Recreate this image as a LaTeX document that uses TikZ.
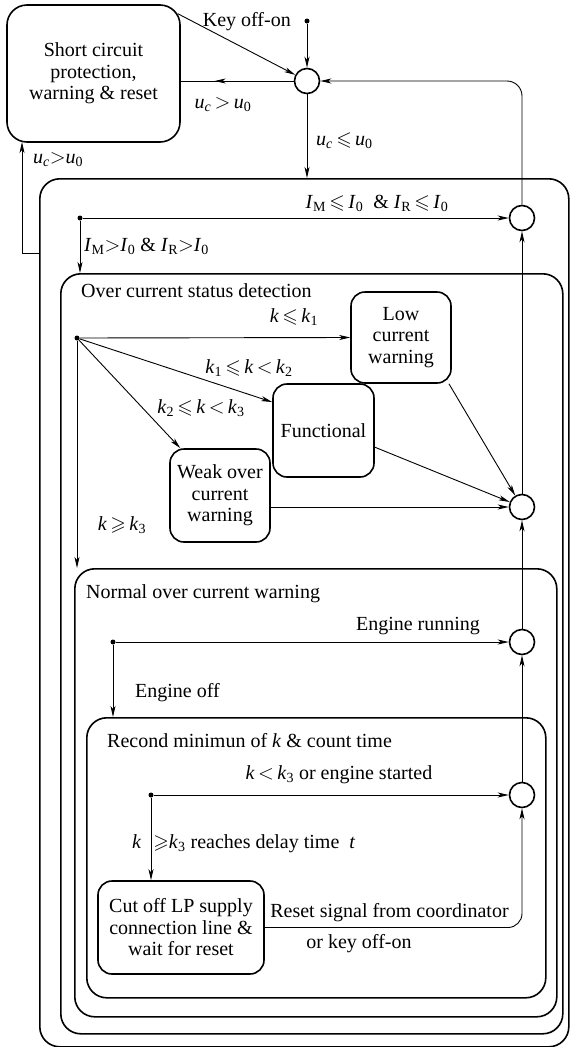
\documentclass[tikz,border=0pt]{standalone}
\usepackage{amssymb}
\usepackage{fontspec}
\setmainfont{Liberation Serif}
\usetikzlibrary{arrows.meta,decorations.markings,calc}

% italic variable with an upright or italic subscript
\newcommand\vr[1]{\textit{#1}}
\newcommand\vs[2]{\textit{#1}\textsubscript{#2}}
\newcommand\rel[1]{\,$#1$\,}

\begin{document}
\begin{tikzpicture}[x=1pt,y=-1pt,
  font=\fontsize{20}{21.5}\selectfont,
  tip/.tip={Stealth[length=11pt,width=5pt,inset=3pt]},
  conn/.style={line width=0.9pt},
  arr/.style={conn,-tip},
  frame/.style={draw,line width=1.6pt,rounded corners=20pt,inner sep=0pt,anchor=north west},
  state/.style={draw,line width=1.6pt,rounded corners=14pt,align=center,inner sep=0pt},
  junc/.style={circle,draw,line width=1.6pt,minimum size=25pt,inner sep=0pt},
  dot/.style={circle,fill,inner sep=0pt,minimum size=5pt},
  lbl/.style={inner sep=0pt,text height=14pt,text depth=4pt}]

\useasboundingbox (0,0) rectangle (570,1047);

% nested state frames
\node[frame,minimum width=529pt,minimum height=868pt] (B1) at (39,178) {};
\node[frame,minimum width=502pt,minimum height=760pt] (B2) at (60,273) {};
\node[frame,minimum width=482pt,minimum height=448pt] (B3) at (74,568) {};
\node[frame,minimum width=459pt,minimum height=280pt] (B4) at (86,717) {};

% states
\node[state,rounded corners=20pt,minimum width=173pt,minimum height=137pt] (sc) at (93.5,73.5)
  {Short circuit\\protection,\\warning \& reset};
\node[state,minimum width=100pt,minimum height=91pt] (lc) at (401,337.5)
  {Low\\current\\warning};
\node[state,minimum width=101pt,minimum height=93pt] (fn) at (323.5,430.5)
  {Functional};
\node[state,minimum width=100pt,minimum height=93pt] (wk) at (220,495.5)
  {Weak over\\current\\warning};
\node[state,minimum width=166pt,minimum height=93pt] (co) at (181,927.5)
  {Cut off LP supply\\connection line \&\\wait for reset};

% junctions and initial points
\node[junc] (c1) at (307,81) {};
\node[junc] (c2) at (522,218) {};
\node[junc] (c3) at (522,507) {};
\node[junc] (c4) at (522,642) {};
\node[junc] (c5) at (522,795) {};
\node[dot] (d0) at (307,21) {};
\node[dot] (d1) at (80,218) {};
\node[dot] (d2) at (77,338) {};
\node[dot] (d3) at (113,642) {};
\node[dot] (d4) at (151,795) {};
\coordinate (scne) at ($(sc.north east)+(-3,9.5)$);
\coordinate (b1tap) at (39,253);
\coordinate (scin) at (22,142);

% transitions
\draw[arr] (d0) -- (c1);
\draw[arr] (scne) -- (c1);
\draw[conn,postaction={decorate},
  decoration={markings,mark=at position 0.7 with {\arrow{tip}}}]
  (c1) -- (sc.east |- c1);
\draw[arr] (c1) -- (c1 |- B1.north);
\draw[arr,rounded corners=15pt] (c2) |- (c1);
\draw[arr] (b1tap) -| (scin);
\draw[arr] (d1) -- (c2);
\draw[arr] (d1) -- (d1 |- B2.north);
\draw[arr] (d2) -- (lc.west);
\draw[arr] (d2) -- (fn.151);
\draw[arr] (d2) -- (wk.130);
\draw[arr] (d2) -- (d2 |- B3.north);
\draw[arr] (lc.-44) -- (c3);
\draw[arr] (fn.-18) -- (c3);
\draw[arr] (wk.east |- c3) -- (c3);
\draw[arr] (c3) -- (c2);
\draw[arr] (d3) -- (c4);
\draw[arr] (d3) -- (d3 |- B4.north);
\draw[arr] (c4) -- (c3);
\draw[arr] (d4) -- (c5);
\draw[arr] (d4) -- (d4 |- co.north);
\draw[arr] (c5) -- (c4);
\draw[arr,rounded corners=14pt] (co.east) -| (c5);

% labels
\node[lbl,anchor=east] (tKey) at (291,21) {Key off-on};
\node[lbl] (tU1) at (223,103) {\vs{u}{\textit{c}}\rel{>}\vs{u}{0}};
\node[lbl,anchor=west] (tU2) at (316,140) {\vs{u}{\textit{c}}\rel{\leqslant}\vs{u}{0}};
\node[lbl,anchor=west] (tU3) at (33,158) {\vs{u}{\textit{c}}$>$\vs{u}{0}};
\node[lbl] (tI1) at (377,203) {\vs{I}{M}\rel{\leqslant}\vs{I}{0} \ \& \vs{I}{R}\rel{\leqslant}\vs{I}{0}};
\node[lbl,anchor=west] (tI2) at (84,246) {\vs{I}{M}$>$\vs{I}{0} \& \vs{I}{R}$>$\vs{I}{0}};
\node[lbl,anchor=west] (tB2) at (81,292) {Over current status detection};
\node[lbl] (tK1) at (294,317) {\vr{k}\rel{\leqslant}\vs{k}{1}};
\node[lbl] (tK2) at (249,368) {\vs{k}{1}\rel{\leqslant}\vr{k}\rel{<}\vs{k}{2}};
\node[lbl] (tK3) at (201,408) {\vs{k}{2}\rel{\leqslant}\vr{k}\rel{<}\vs{k}{3}};
\node[lbl] (tK4) at (122,525) {\vr{k}\rel{\geqslant}\vs{k}{3}};
\node[lbl,anchor=west] (tB3) at (86,593) {Normal over current warning};
\node[lbl] (tRun) at (418,625) {Engine running};
\node[lbl,anchor=west] (tOff) at (135,692) {Engine off};
\node[lbl,anchor=west] (tB4) at (107,742) {Recond minimun of \vr{k} \& count time};
\node[lbl] (tK5) at (339,774) {\vr{k}\rel{<}\vs{k}{3} or engine started};
\node[lbl,anchor=west] (tK6) at (132,843) {\vr{k}\hspace{12pt}$\geqslant$\vs{k}{3} reaches delay time \ \vr{t}};
\node[lbl] (tR1) at (389.5,912) {Reset signal from coordinator};
\node[lbl] (tR2) at (359,943) {or key off-on};
\end{tikzpicture}
\end{document}
